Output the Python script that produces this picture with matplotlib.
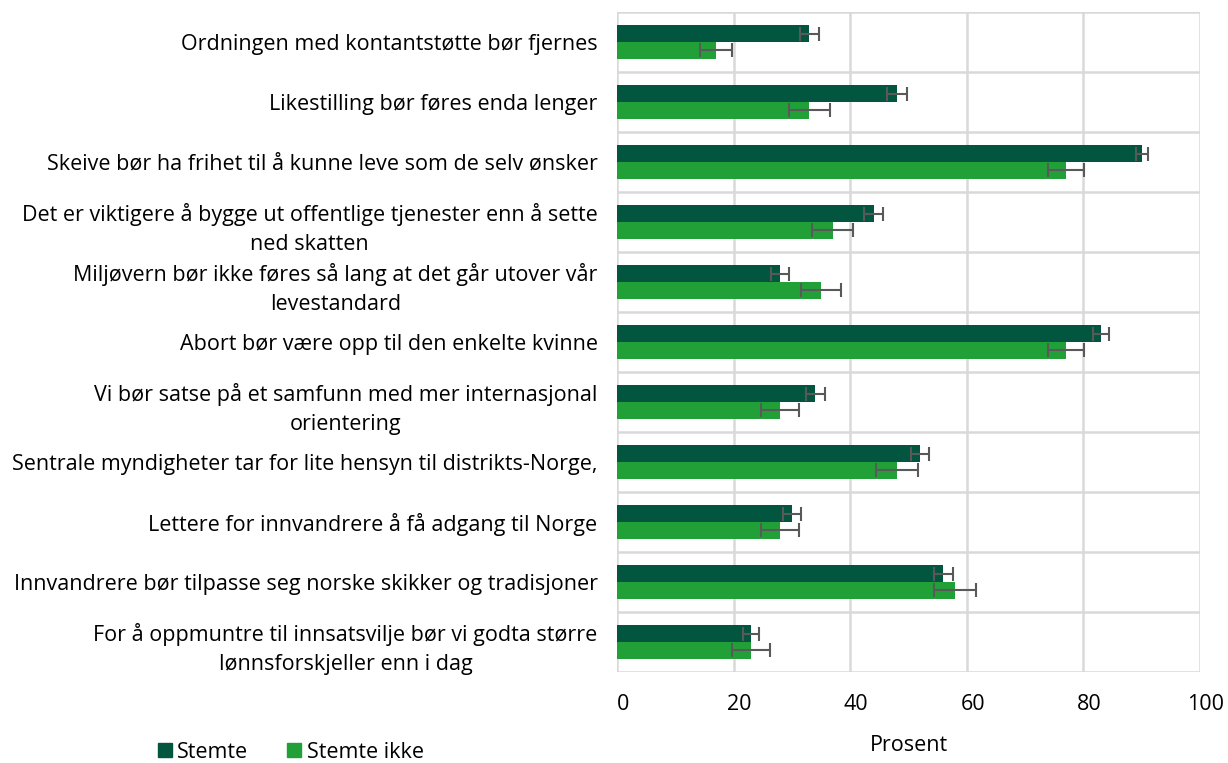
import matplotlib.pyplot as plt
import matplotlib.transforms as mtransforms
from matplotlib.patches import Patch
import numpy as np

plt.rcParams['font.family'] = ['Open Sans', 'DejaVu Sans']

# statements, top to bottom as in the chart
categories = [
    'Ordningen med kontantstøtte bør fjernes',
    'Likestilling bør føres enda lenger',
    'Skeive bør ha frihet til å kunne leve som de selv ønsker',
    'Det er viktigere å bygge ut offentlige tjenester enn å sette\nned skatten',
    'Miljøvern bør ikke føres så lang at det går utover vår\nlevestandard',
    'Abort bør være opp til den enkelte kvinne',
    'Vi bør satse på et samfunn med mer internasjonal\norientering',
    'Sentrale myndigheter tar for lite hensyn til distrikts-Norge,',
    'Lettere for innvandrere å få adgang til Norge',
    'Innvandrere bør tilpasse seg norske skikker og tradisjoner',
    'For å oppmuntre til innsatsvilje bør vi godta større\nlønnsforskjeller enn i dag',
]

stemte = [33, 48, 90, 44, 28, 83, 34, 52, 30, 56, 23]
stemte_err = [1.6, 1.7, 1.0, 1.6, 1.5, 1.4, 1.6, 1.6, 1.6, 1.6, 1.4]
stemte_ikke = [17, 33, 77, 37, 35, 77, 28, 48, 28, 58, 23]
stemte_ikke_err = [2.8, 3.5, 3.1, 3.5, 3.5, 3.1, 3.3, 3.6, 3.3, 3.6, 3.2]

x_ticks = [0, 20, 40, 60, 80, 100]

DARK = '#02553F'
LIGHT = '#21A038'
GRID = '#D9D9D9'
ERR = '#595959'
FS = 15.5

fig = plt.figure(figsize=(12.28, 7.63), dpi=100)
ax = fig.add_axes([617 / 1228, 1 - 672 / 763, (1200 - 617) / 1228, 660 / 763])

y = np.arange(len(categories))
h = 0.283

ax.barh(y - h / 2, stemte, height=h, color=DARK, zorder=3,
        xerr=stemte_err, error_kw=dict(ecolor=ERR, elinewidth=1.5, capsize=5, capthick=1.5, zorder=4))
ax.barh(y + h / 2, stemte_ikke, height=h, color=LIGHT, zorder=3,
        xerr=stemte_ikke_err, error_kw=dict(ecolor=ERR, elinewidth=1.5, capsize=5, capthick=1.5, zorder=4))

ax.set_xlim(0, 100)
ax.set_ylim(len(categories) - 0.5, -0.5)

# vertical gridlines from the value axis, horizontal ones between categories
ax.set_xticks(x_ticks)
ax.set_xticklabels([str(t) for t in x_ticks], fontsize=FS)
ax.xaxis.grid(True, color=GRID, linewidth=1.8, zorder=0)
for b in np.arange(-0.5, len(categories), 1):
    ax.axhline(b, color=GRID, linewidth=1.8, zorder=0)
for s in ax.spines.values():
    s.set_visible(False)
ax.tick_params(axis='x', length=0, pad=16)

# Excel puts the value labels a bit right of the gridlines
offset = mtransforms.ScaledTranslation(6 / 100, 0, fig.dpi_scale_trans)
for lab in ax.get_xticklabels():
    lab.set_transform(lab.get_transform() + offset)

ax.set_yticks(y)
ax.set_yticklabels(categories, fontsize=FS, multialignment='center', linespacing=1.55)
ax.tick_params(axis='y', length=0, pad=14)

ax.set_xlabel('Prosent', fontsize=FS, labelpad=14)

handles = [Patch(color=DARK, label='Stemte'), Patch(color=LIGHT, label='Stemte ikke')]
fig.legend(handles=handles, loc='center left', bbox_to_anchor=(158 / 1228, 1 - 752 / 763),
           ncol=2, frameon=False, fontsize=FS, handlelength=0.65, handleheight=0.65,
           handletextpad=0.25, columnspacing=1.8, borderaxespad=0, borderpad=0)

plt.savefig('out.png', dpi=100)
